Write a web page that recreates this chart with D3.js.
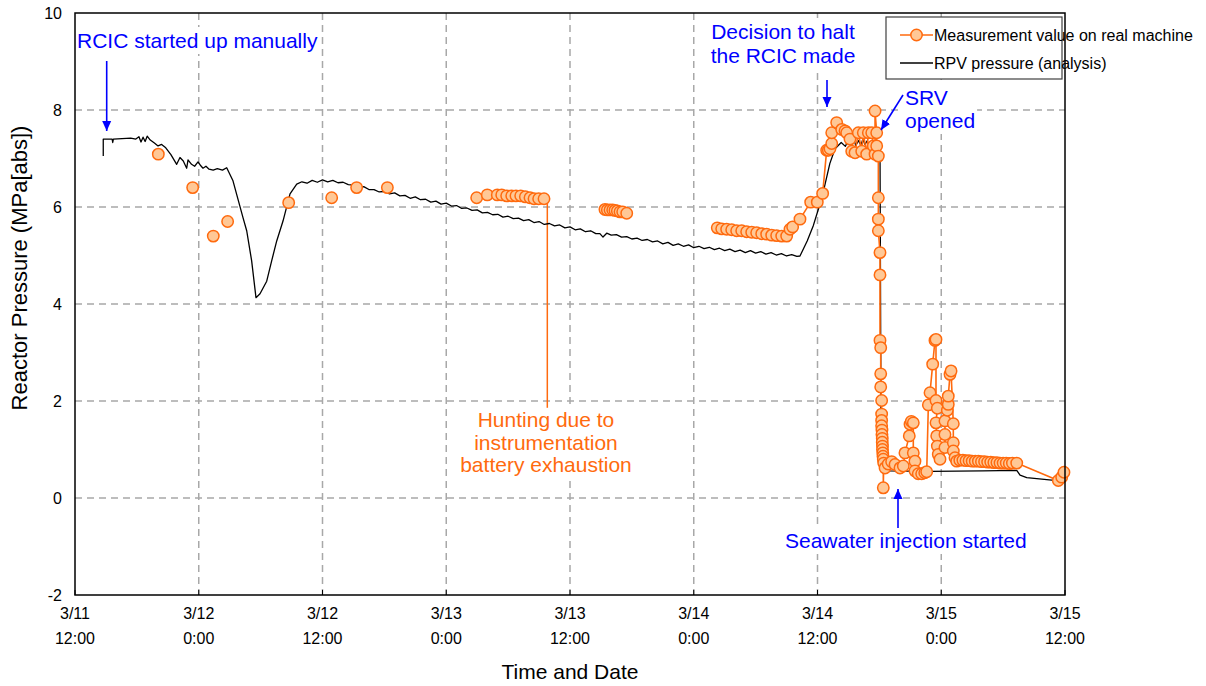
<!DOCTYPE html>
<html><head><meta charset="utf-8">
<script src="https://cdn.jsdelivr.net/npm/d3@7"></script>
<style>
body{margin:0;background:#fff;}
svg{display:block;}
text{font-family:"Liberation Sans",Arial,Helvetica,sans-serif;}
</style>
</head><body>
<svg id="chart" width="1206" height="686"></svg>
<script>
// ---------- data (time in hours since 3/11 0:00, pressure in MPa[abs]) ----------
const xTickHours = [12, 24, 36, 48, 60, 72, 84, 96, 108];
const xTickDates = ["3/11", "3/12", "3/12", "3/13", "3/13", "3/14", "3/14", "3/15", "3/15"];
const xTickTimes = ["12:00", "0:00", "12:00", "0:00", "12:00", "0:00", "12:00", "0:00", "12:00"];
const yTicks = [-2, 0, 2, 4, 6, 8, 10];

const rpvHours = [14.74,14.74,15.60,15.66,15.72,17.40,17.90,18.20,18.40,18.60,18.80,19.00,19.30,19.70,20.05,20.40,20.80,21.30,21.86,22.18,22.50,22.83,22.96,23.30,23.60,23.93,24.20,24.41,24.70,25.00,25.40,25.80,26.30,26.71,27.32,28.29,28.65,29.13,29.55,29.94,30.59,31.07,31.56,32.17,32.85,33.50,
34.0,34.5,35.0,35.5,36.0,36.5,37.0,37.5,38.0,38.5,39.0,39.5,40.0,40.5,41.0,41.5,42.0,42.5,43.0,43.5,44.0,44.5,45.0,45.5,46.0,46.5,47.0,47.5,48.0,48.5,49.0,49.5,50.0,50.5,51.0,51.5,52.0,52.5,53.0,53.5,54.0,54.5,55.0,55.5,56.0,56.5,57.0,57.5,58.0,58.5,59.0,59.5,60.0,60.5,61.0,61.5,62.0,62.5,62.9,63.2,63.56,64.0,64.5,65.0,65.5,66.0,66.5,67.0,67.5,68.0,68.5,69.0,69.5,70.0,70.5,71.0,71.5,72.0,72.5,73.0,73.5,74.0,74.5,75.0,75.5,76.0,76.5,77.0,77.5,78.0,78.5,79.0,79.5,80.0,80.5,81.0,81.5,82.0,82.3,
83.00,83.60,84.15,84.60,85.20,85.70,86.30,86.70,87.00,87.20,87.50,87.70,88.00,88.20,88.40,88.60,88.80,89.00,89.30,89.60,89.90,90.06,90.10,90.15,90.35,90.55,91.00,95.00,100.00,103.32,103.64,104.29,107.20,108.00];
const rpvMPa = [7.05,7.40,7.40,7.33,7.40,7.42,7.40,7.45,7.34,7.44,7.35,7.46,7.38,7.32,7.26,7.29,7.22,7.08,6.88,7.02,6.95,6.80,6.97,6.88,6.84,6.93,6.85,6.80,6.84,6.78,6.76,6.79,6.76,6.81,6.54,5.78,5.51,4.89,4.13,4.21,4.47,4.89,5.30,5.71,6.27,6.47,
6.52,6.49,6.55,6.51,6.56,6.52,6.55,6.50,6.51,6.46,6.45,6.40,6.42,6.36,6.36,6.31,6.32,6.27,6.29,6.23,6.24,6.18,6.21,6.15,6.16,6.10,6.12,6.06,6.08,6.02,6.03,5.97,5.98,5.93,5.94,5.88,5.89,5.84,5.85,5.79,5.81,5.76,5.77,5.72,5.74,5.68,5.70,5.64,5.66,5.61,5.63,5.57,5.59,5.53,5.55,5.49,5.51,5.45,5.45,5.38,5.46,5.42,5.43,5.38,5.39,5.34,5.36,5.31,5.33,5.28,5.30,5.24,5.27,5.21,5.24,5.19,5.22,5.16,5.19,5.14,5.17,5.12,5.15,5.10,5.13,5.08,5.11,5.06,5.10,5.05,5.08,5.03,5.06,5.01,5.04,4.99,5.02,4.98,4.99,
5.30,5.62,6.00,6.35,6.90,7.20,7.33,7.25,7.38,7.29,7.42,7.27,7.37,7.27,7.40,7.29,7.36,7.27,7.34,7.24,7.22,7.20,5.00,1.80,0.95,0.64,0.56,0.55,0.56,0.57,0.47,0.42,0.36,0.35];

// null marks a gap in the measured series
const measHours = [20.08,null,23.41,null,25.41,null,26.80,null,32.72,null,36.89,null,39.31,null,42.29,null,
50.95,51.98,52.95,53.38,53.86,54.35,54.76,55.22,55.67,56.12,56.51,56.96,57.48,null,
63.39,63.62,63.88,64.14,64.36,64.59,64.85,65.11,65.50,null,
74.28,74.71,75.19,75.68,76.16,76.65,77.13,77.62,78.10,78.59,79.07,79.56,80.04,80.53,81.01,81.33,81.59,82.30,83.34,83.98,84.50,84.89,85.05,85.21,85.38,85.38,85.86,86.35,86.67,86.83,87.15,87.32,87.64,87.96,88.29,88.44,88.77,88.93,89.26,89.41,89.58,89.58,89.74,89.74,89.90,89.90,89.90,89.90,90.06,90.06,90.06,90.13,90.13,90.13,90.22,90.22,90.22,90.22,90.25,90.25,90.28,90.28,90.30,90.30,90.33,90.35,90.38,90.38,90.42,90.55,90.85,91.19,91.52,92.00,92.32,92.48,92.90,92.97,93.10,93.29,93.29,93.45,93.45,93.77,94.10,94.40,94.59,94.75,94.91,95.17,95.39,95.49,95.49,95.62,95.49,95.56,95.62,95.71,95.88,96.36,96.36,96.36,96.59,96.68,96.68,96.85,96.95,97.17,97.17,97.17,97.33,97.50,97.80,98.10,98.40,98.70,99.00,99.30,99.60,99.90,100.20,100.50,100.80,101.10,101.40,101.70,102.00,102.30,102.60,102.90,103.32,107.35,107.68,107.90];
const measMPa = [7.09,null,6.40,null,5.40,null,5.70,null,6.09,null,6.19,null,6.40,null,6.40,null,
6.19,6.25,6.25,6.25,6.23,6.23,6.23,6.23,6.21,6.19,6.17,6.17,6.17,null,
5.95,5.94,5.94,5.94,5.93,5.92,5.90,5.90,5.87,null,
5.57,5.55,5.54,5.53,5.51,5.51,5.49,5.48,5.47,5.45,5.44,5.42,5.41,5.40,5.40,5.54,5.59,5.75,6.10,6.10,6.28,7.17,7.17,7.20,7.31,7.53,7.74,7.60,7.57,7.53,7.40,7.15,7.12,7.53,7.15,7.53,7.09,7.53,7.53,7.26,7.09,7.98,7.53,7.26,7.05,6.19,5.75,5.51,5.06,4.60,3.25,3.10,2.56,2.29,2.01,1.73,1.60,1.49,1.40,1.31,1.23,1.15,1.07,1.00,0.93,0.86,0.80,0.21,0.72,0.62,0.70,0.75,0.69,0.62,0.66,0.93,1.28,1.52,1.58,1.55,0.93,0.76,0.56,0.50,0.50,0.52,0.54,1.92,2.17,2.76,3.25,3.27,2.01,1.85,1.55,1.28,1.07,0.90,0.80,1.04,1.31,1.59,1.81,1.93,2.10,2.55,2.62,1.53,1.14,0.97,0.83,0.76,0.78,0.78,0.77,0.77,0.76,0.76,0.76,0.75,0.75,0.74,0.74,0.73,0.73,0.72,0.72,0.72,0.71,0.72,0.72,0.36,0.43,0.53];

const seriesNames = ["Measurement value on real machine", "RPV pressure (analysis)"];

// ---------- drawing ----------
const W = 1206, H = 686;
const plot = {left: 75, right: 1065, top: 13, bottom: 595};
const svg = d3.select("#chart");
const x = d3.scaleLinear().domain([12, 108]).range([plot.left, plot.right]);
const y = d3.scaleLinear().domain([-2, 10]).range([plot.bottom, plot.top]);

const ORANGE = "#ff6a0e", ORANGE_FILL = "#ffc896", BLUE = "#0000ff", GRID = "#a8a8a8";

svg.append("rect").attr("width", W).attr("height", H).attr("fill", "#fff");

const defs = svg.append("defs");
defs.append("marker").attr("id", "arrowBlue").attr("viewBox", "0 -5 10 10")
  .attr("refX", 10).attr("refY", 0).attr("markerWidth", 10).attr("markerHeight", 10)
  .attr("markerUnits", "userSpaceOnUse").attr("orient", "auto")
  .append("path").attr("d", "M0,-4.5L10,0L0,4.5Z").attr("fill", BLUE);

// grid
const grid = svg.append("g");
grid.selectAll("line.h").data(yTicks.filter(v => v > -2 && v < 10)).join("line")
  .attr("x1", plot.left).attr("x2", plot.right).attr("y1", d => y(d)).attr("y2", d => y(d))
  .attr("stroke", GRID).attr("stroke-width", 1.5).attr("stroke-dasharray", "7,5");
grid.selectAll("line.v").data(xTickHours.filter(h => h > 12 && h < 108)).join("line")
  .attr("y1", plot.top).attr("y2", plot.bottom).attr("x1", d => x(d)).attr("x2", d => x(d))
  .attr("stroke", GRID).attr("stroke-width", 1.5).attr("stroke-dasharray", "7,5");

// annotations with white boxes
const annoLayer = svg.append("g");
function label(lines, px, py, lh, anchor, color) {
  const g = annoLayer.append("g");
  const rect = g.append("rect").attr("fill", "#fff");
  const t = g.append("text").attr("font-size", 21).attr("fill", color).attr("text-anchor", anchor);
  lines.forEach((s, i) => t.append("tspan").attr("x", px).attr("y", py + i * lh).text(s));
  const b = t.node().getBBox();
  rect.attr("x", b.x - 2).attr("y", b.y - 2).attr("width", b.width + 4).attr("height", b.height + 4);
  return g;
}
label(["RCIC started up manually"], 77, 48, 0, "start", BLUE);
label(["Decision to halt", "the RCIC made"], 783, 39, 24, "middle", BLUE);
label(["SRV", "opened"], 905, 105, 23, "start", BLUE);
label(["Seawater injection started"], 785, 548, 0, "start", BLUE);
label(["Hunting due to", "instrumentation", "battery exhaustion"], 546, 427, 22.5, "middle", ORANGE);

// hunting leader line
svg.append("line").attr("x1", x(57.8)).attr("x2", x(57.8)).attr("y1", y(6.17)).attr("y2", y(1.86))
  .attr("stroke", ORANGE).attr("stroke-width", 1.5);

// analysis line
const rpvData = rpvHours.map((h, i) => [h, rpvMPa[i]]);
svg.append("path").datum(rpvData)
  .attr("d", d3.line().x(d => x(d[0])).y(d => y(d[1])))
  .attr("fill", "none").attr("stroke", "#000").attr("stroke-width", 1.3).attr("stroke-linejoin", "round");

// measured series
const measData = measHours.map((h, i) => [h, measMPa[i]]);
svg.append("path").datum(measData)
  .attr("d", d3.line().defined(d => d[1] != null).x(d => x(d[0])).y(d => y(d[1])))
  .attr("fill", "none").attr("stroke", ORANGE).attr("stroke-width", 1.6);
svg.append("g").selectAll("circle").data(measData.filter(d => d[1] != null)).join("circle")
  .attr("cx", d => x(d[0])).attr("cy", d => y(d[1])).attr("r", 5.7)
  .attr("fill", ORANGE_FILL).attr("stroke", ORANGE).attr("stroke-width", 1.5);

// arrows
const arrows = [[106.7, 61, 106.7, 131], [827, 80, 827, 107], [903, 95, 881, 130], [898, 528, 898, 489]];
svg.append("g").selectAll("line").data(arrows).join("line")
  .attr("x1", d => d[0]).attr("y1", d => d[1]).attr("x2", d => d[2]).attr("y2", d => d[3])
  .attr("stroke", BLUE).attr("stroke-width", 1.6).attr("marker-end", "url(#arrowBlue)");

// frame
svg.append("rect").attr("x", plot.left).attr("y", plot.top)
  .attr("width", plot.right - plot.left).attr("height", plot.bottom - plot.top)
  .attr("fill", "none").attr("stroke", "#000").attr("stroke-width", 1.5);

// x ticks
svg.append("g").selectAll("line").data(xTickHours).join("line")
  .attr("x1", d => x(d)).attr("x2", d => x(d)).attr("y1", plot.bottom).attr("y2", plot.bottom - 5)
  .attr("stroke", "#000").attr("stroke-width", 1);
const xl = svg.append("g").attr("font-size", 16).attr("text-anchor", "middle").attr("fill", "#000");
xl.selectAll("text.d").data(xTickHours).join("text").attr("x", d => x(d)).attr("y", 619)
  .text((d, i) => xTickDates[i]);
xl.selectAll("text.t").data(xTickHours).join("text").attr("class", "t").attr("x", d => x(d)).attr("y", 644)
  .text((d, i) => xTickTimes[i]);

// y ticks
svg.append("g").attr("font-size", 16).attr("text-anchor", "end").selectAll("text").data(yTicks).join("text")
  .attr("x", 62).attr("y", d => y(d)).attr("dy", "0.36em").text(d => d);

// axis titles
svg.append("text").attr("x", 570).attr("y", 679).attr("font-size", 21).attr("text-anchor", "middle").text("Time and Date");
svg.append("text").attr("transform", "translate(27,268) rotate(-90)").attr("font-size", 22)
  .attr("text-anchor", "middle").text("Reactor Pressure (MPa[abs])");

// legend
const lg = svg.append("g");
lg.append("rect").attr("x", 886).attr("y", 17).attr("width", 176).attr("height", 62)
  .attr("fill", "#fff").attr("stroke", "#404040").attr("stroke-width", 1.2);
lg.append("line").attr("x1", 900).attr("x2", 933).attr("y1", 35).attr("y2", 35).attr("stroke", ORANGE).attr("stroke-width", 1.6);
lg.append("circle").attr("cx", 916.5).attr("cy", 35).attr("r", 5.7).attr("fill", ORANGE_FILL).attr("stroke", ORANGE).attr("stroke-width", 1.5);
lg.append("line").attr("x1", 900).attr("x2", 933).attr("y1", 63).attr("y2", 63).attr("stroke", "#000").attr("stroke-width", 1.3);
lg.append("text").attr("x", 934).attr("y", 41).attr("font-size", 16).text(seriesNames[0]);
lg.append("text").attr("x", 934).attr("y", 69).attr("font-size", 16).text(seriesNames[1]);
</script>
</body></html>
